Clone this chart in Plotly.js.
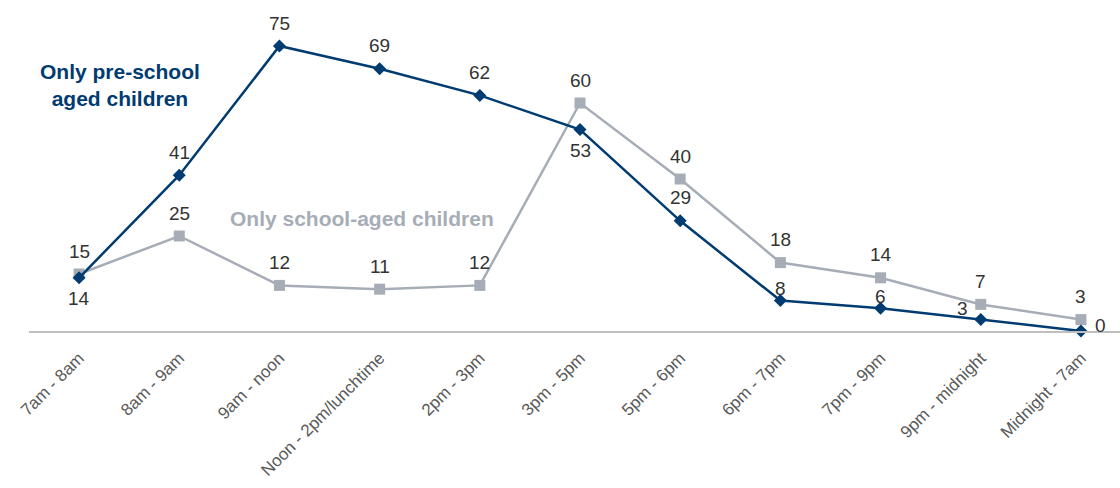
<!DOCTYPE html>
<html><head><meta charset="utf-8">
<script src="https://cdn.plot.ly/plotly-3.0.1.min.js"></script>
<style>html,body{margin:0;padding:0;background:#fff}#chart{width:1120px;height:488px}</style>
</head><body><div id="chart"></div>
<script>
const categories = ["7am - 8am","8am - 9am","9am - noon","Noon - 2pm/lunchtime","2pm - 3pm","3pm - 5pm","5pm - 6pm","6pm - 7pm","7pm - 9pm","9pm - midnight","Midnight - 7am"];
const preschool = [14,41,75,69,62,53,29,8,6,3,0];
const schoolAged = [15,25,12,11,12,60,40,18,14,7,3];
// label placement (pixel offsets from the marker), style only
const preschoolLabelShift = [[0,-21],[0,23],[0,23],[0,23],[0,23],[0,-21],[0,23],[0,12],[0,12],[-18,11],[20,6]];
const schoolLabelShift = schoolAged.map(() => [0,23]);

const navy = "#003B71", gray = "#A6ADB6";
const labelFont = {family: "Liberation Sans, Arial", size: 19, color: "#333"};
const traces = [
  {x: categories, y: schoolAged, type: "scatter", mode: "lines+markers",
   line: {color: gray, width: 2.5}, marker: {symbol: "square", size: 11, color: gray},
   cliponaxis: false, hoverinfo: "skip"},
  {x: categories, y: preschool, type: "scatter", mode: "lines+markers",
   line: {color: navy, width: 2.5}, marker: {symbol: "diamond", size: 10, color: navy},
   cliponaxis: false, hoverinfo: "skip"}
];
function labels(values, shifts) {
  return values.map((v, i) => ({x: categories[i], y: v, xref: "x", yref: "y", text: String(v),
    showarrow: false, xanchor: "center", yanchor: "middle", xshift: shifts[i][0], yshift: shifts[i][1],
    font: labelFont}));
}
const layout = {
  width: 1120, height: 488, showlegend: false,
  paper_bgcolor: "#fff", plot_bgcolor: "#fff",
  margin: {l: 29, r: 0, t: 27, b: 157},
  xaxis: {type: "category", range: [-0.5, 10.39], showgrid: false, zeroline: false, automargin: false,
    showline: true, linecolor: "#BFBFBF", linewidth: 1.5, ticks: "", tickangle: -45, ticklabelstandoff: 9,
    tickfont: {family: "Liberation Sans, Arial", size: 17, color: "#595959"}},
  yaxis: {range: [0, 80], visible: false, showgrid: false, zeroline: false},
  annotations: [
    {xref: "paper", yref: "paper", x: (120-29)/1091, y: (331-85)/304, xanchor: "center", yanchor: "middle",
     text: "<b>Only pre-school<br>aged children</b>", showarrow: false, align: "center",
     font: {family: "Liberation Sans, Arial", size: 21, color: navy}},
    {xref: "paper", yref: "paper", x: (362-29)/1091, y: (331-218)/304, xanchor: "center", yanchor: "middle",
     text: "<b>Only school-aged children</b>", showarrow: false,
     font: {family: "Liberation Sans, Arial", size: 21, color: gray}}
  ].concat(labels(schoolAged, schoolLabelShift), labels(preschool, preschoolLabelShift))
};
Plotly.newPlot("chart", traces, layout, {staticPlot: true, displayModeBar: false});
</script></body></html>
